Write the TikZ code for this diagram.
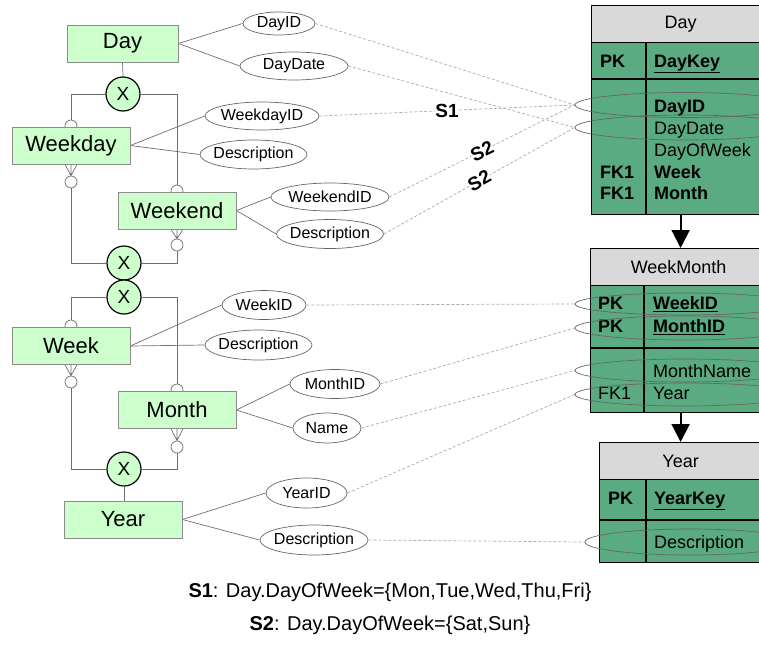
\documentclass[tikz,border=0pt]{standalone}
\usepackage{fontspec}
\setmainfont{Liberation Sans}
\usetikzlibrary{shapes.geometric,arrows.meta,backgrounds}
\definecolor{entfill}{HTML}{CCFFCC}
\definecolor{entdraw}{HTML}{8C8C8C}
\definecolor{tgreen}{HTML}{5AAB82}
\definecolor{tgray}{HTML}{D9D9D9}
\definecolor{lnk}{HTML}{6E6E6E}
\definecolor{dsh}{HTML}{AAAAAA}
\begin{document}
\begin{tikzpicture}[x=1pt,y=-1pt,
  entity/.style={draw=entdraw, fill=entfill, line width=0.8pt, minimum width=118pt, minimum height=37pt, inner sep=0pt, font=\fontsize{22}{26}\selectfont},
  attr/.style={ellipse, draw=black!60, fill=white, inner sep=0pt, line width=0.7pt},
  attrtext/.style={font=\fontsize{16}{19}\selectfont, inner sep=0pt},
  xnode/.style={circle, draw=black, fill=entfill, line width=1.2pt, minimum size=34pt, inner sep=0pt, font=\fontsize{19}{22}\selectfont},
  opt/.style={circle, draw=lnk, fill=white, minimum size=12pt, inner sep=0pt, line width=0.7pt},
  link/.style={draw=lnk, line width=0.7pt},
  dlink/.style={draw=dsh, dash pattern=on 3pt off 2pt, line width=0.7pt},
  slabel/.style={fill=white, inner sep=0pt, font=\fontsize{19}{22}\selectfont\bfseries},
  thead/.style={draw=black, fill=tgray, line width=1.2pt, inner sep=0pt, minimum height=37pt, font=\fontsize{18}{21}\selectfont},
  tbody/.style={draw=black, fill=tgreen, line width=1.2pt, inner sep=0pt},
  ttext/.style={anchor=base west, inner sep=0pt, font=\fontsize{18}{21}\selectfont},
  tell/.style={ellipse, draw=black!60, inner sep=0pt, line width=0.7pt},
  tarrow/.style={line width=2pt, -{Triangle[width=18pt,length=18pt]}}
]
\useasboundingbox (0,0) rectangle (759,645);
\clip (0,0) rectangle (759,645);

% optional circles (drawn before boxes)
\node[opt] (wdTop) at (71,126) {};
\node[opt] (wdBot) at (71,182) {};
\node[opt] (weTop) at (177,191) {};
\node[opt] (weBot) at (177,245) {};
\node[opt] (wkTop) at (71,326) {};
\node[opt] (wkBot) at (71,382) {};
\node[opt] (moTop) at (177,390) {};
\node[opt] (moBot) at (177,447) {};

% entities
\node[entity, minimum width=111pt] (day) at (122.5,43.5) {Day};
\node[entity] (wd) at (71,145.5) {Weekday};
\node[entity] (we) at (177,210.5) {Weekend};
\node[entity] (wk) at (71,346) {Week};
\node[entity] (mo) at (177,410) {Month};
\node[entity] (yr) at (123,519.5) {Year};

% exclusive circles
\node[xnode] (x1) at (123,94) {X};
\node[xnode] (x2) at (124,263) {X};
\node[xnode] (x3) at (124,297) {X};
\node[xnode] (x4) at (124,469) {X};

% attributes
\node[attr, minimum width=72pt, minimum height=23pt] (adayid) at (279,23.5) {};
\node[attrtext] at (adayid) {DayID};
\node[attr, minimum width=108pt, minimum height=28pt] (adaydate) at (294,66) {};
\node[attrtext] at (adaydate) {DayDate};
\node[attr, minimum width=114pt, minimum height=28pt] (awdid) at (262,116) {};
\node[attrtext] at (awdid) {WeekdayID};
\node[attr, minimum width=107pt, minimum height=29pt] (awddesc) at (253.5,154.5) {};
\node[attrtext] at (awddesc) {Description};
\node[attr, minimum width=118pt, minimum height=28pt] (aweid) at (330,197) {};
\node[attrtext] at (aweid) {WeekendID};
\node[attr, minimum width=107pt, minimum height=29pt] (awedesc) at (330,234) {};
\node[attrtext] at (awedesc) {Description};
\node[attr, minimum width=84pt, minimum height=29pt] (awkid) at (264,305) {};
\node[attrtext] at (awkid) {WeekID};
\node[attr, minimum width=107pt, minimum height=30pt] (awkdesc) at (258.5,345) {};
\node[attrtext] at (awkdesc) {Description};
\node[attr, minimum width=90pt, minimum height=29pt] (amoid) at (335,384) {};
\node[attrtext] at (amoid) {MonthID};
\node[attr, minimum width=68pt, minimum height=30pt] (amoname) at (327,428) {};
\node[attrtext] at (amoname) {Name};
\node[attr, minimum width=81pt, minimum height=30pt] (ayrid) at (306.5,493) {};
\node[attrtext] at (ayrid) {YearID};
\node[attr, minimum width=108pt, minimum height=30pt] (ayrdesc) at (314,540) {};
\node[attrtext] at (ayrdesc) {Description};

% ---------- tables ----------
% Day
\node[thead, minimum width=178pt, anchor=north west] (dayH) at (591,5) {Day};
\node[tbody, minimum width=178pt, minimum height=172pt, anchor=north west] (dayB) at (591,42) {};
\draw[line width=1.2pt] (646,42) -- (646,214);
\draw[line width=1.2pt] (591,79) -- (769,79);
\node[ttext] at (600,67.5) {\bfseries PK};
\node[ttext] at (654,67.5) {\bfseries\underline{DayKey}};
\node[ttext] at (654,112.5) {\bfseries DayID};
\node[ttext] at (654,134.5) {DayDate};
\node[ttext] at (654,156.5) {DayOfWeek};
\node[ttext] at (600,178.5) {\bfseries FK1};
\node[ttext] at (654,178.5) {\bfseries Week};
\node[ttext] at (600,199.5) {\bfseries FK1};
\node[ttext] at (654,199.5) {\bfseries Month};
\node[tell, minimum width=220pt, minimum height=25pt] (tdayid) at (685,105) {};
\node[tell, minimum width=220pt, minimum height=25pt] (tdaydate) at (685,127.5) {};

% WeekMonth
\node[thead, minimum width=176pt, anchor=north west] (wmH) at (590,248) {WeekMonth};
\node[tbody, minimum width=176pt, minimum height=127pt, anchor=north west] (wmB) at (590,285) {};
\draw[line width=1.2pt] (644,285) -- (644,412);
\draw[line width=1.2pt] (590,348) -- (766,348);
\node[ttext] at (598,309.5) {\bfseries PK};
\node[ttext] at (653,309.5) {\bfseries\underline{WeekID}};
\node[ttext] at (598,332.5) {\bfseries PK};
\node[ttext] at (653,332.5) {\bfseries\underline{MonthID}};
\node[ttext] at (653,377) {MonthName};
\node[ttext] at (598,399.5) {FK1};
\node[ttext] at (653,399.5) {Year};
\node[tell, minimum width=220pt, minimum height=22pt] (twkid) at (685,304) {};
\node[tell, minimum width=220pt, minimum height=24pt] (tmoid) at (685,328) {};
\node[tell, minimum width=220pt, minimum height=23pt] (tmoname) at (685,370.5) {};
\node[tell, minimum width=220pt, minimum height=23pt] (tyr) at (685,394.5) {};

% Year
\node[thead, minimum width=162pt, anchor=north west] (yrH) at (599,442) {Year};
\node[tbody, minimum width=162pt, minimum height=83pt, anchor=north west] (yrB) at (599,479) {};
\draw[line width=1.2pt] (646,479) -- (646,562);
\draw[line width=1.2pt] (599,520) -- (761,520);
\node[ttext] at (608,504.5) {\bfseries PK};
\node[ttext] at (654,504.5) {\bfseries\underline{YearKey}};
\node[ttext] at (654,548.5) {Description};
\node[tell, minimum width=210pt, minimum height=26pt] (tyrdesc) at (690,542) {};

% table arrows
\draw[tarrow] (dayB.south) -- (dayB.south |- wmH.north);
\draw[tarrow] (wmB.south -| yrH.north) -- (yrH.north);

% ---------- connectors (behind) ----------
\begin{scope}[on background layer]
\draw[link] (day.south) -- (x1.north);
\draw[link] (x1.west) -| (wdTop.north);
\draw[link] (x1.east) -| (weTop.north);
\draw[link] (wdBot.south) |- (x2.west);
\draw[link] (weBot.south) |- (x2.east);
\draw[link] (x3.west) -| (wkTop.north);
\draw[link] (x3.east) -| (moTop.north);
\draw[link] (wkBot.south) |- (x4.west);
\draw[link] (moBot.south) |- (x4.east);
\draw[link] (x4.south) -- (x4.south |- yr.north);
% crow's feet
\draw[link] ([xshift=-6pt]wd.south) -- (wdBot.north) -- ([xshift=6pt]wd.south) (wd.south) -- (wdBot.north);
\draw[link] ([xshift=-6pt]we.south) -- (weBot.north) -- ([xshift=6pt]we.south) (we.south) -- (weBot.north);
\draw[link] ([xshift=-6pt]wk.south) -- (wkBot.north) -- ([xshift=6pt]wk.south) (wk.south) -- (wkBot.north);
\draw[link] ([xshift=-6pt]mo.south) -- (moBot.north) -- ([xshift=6pt]mo.south) (mo.south) -- (moBot.north);
% attribute links
\draw[link] (day.east) -- (adayid.west);
\draw[link] (day.east) -- (adaydate.west);
\draw[link] (wd.east) -- (awdid.west);
\draw[link] (wd.east) -- (awddesc.west);
\draw[link] (we.east) -- (aweid.west);
\draw[link] (we.east) -- (awedesc.west);
\draw[link] (wk.east) -- (awkid.west);
\draw[link] (wk.east) -- (awkdesc.west);
\draw[link] (mo.east) -- (amoid.west);
\draw[link] (mo.east) -- (amoname.west);
\draw[link] (yr.east) -- (ayrid.west);
\draw[link] (yr.east) -- (ayrdesc.west);
% dashed mappings
\draw[dlink] (adayid.east) -- (tdayid.west);
\draw[dlink] (adaydate.east) -- (tdaydate.west);
\draw[dlink] (awkid.east) -- (twkid.west);
\draw[dlink] (amoid.east) -- (tmoid.west);
\draw[dlink] (amoname.east) -- (tmoname.west);
\draw[dlink] (ayrid.east) -- (tyr.west);
\draw[dlink] (ayrdesc.east) -- (tyrdesc.west);
\end{scope}
\draw[dlink] (awdid.east) -- node[slabel, midway] (s1) {S1} (tdayid.west);
\draw[dlink] (aweid.east) -- node[slabel, midway, sloped] (s2a) {S2} (tdayid.west);
\draw[dlink] (awedesc.east) -- node[slabel, midway, sloped] (s2b) {S2} (tdaydate.west);

% legend
\node[font=\fontsize{20}{24}\selectfont] (leg1) at (390,592) {\textbf{S1}: Day.DayOfWeek=\{Mon,Tue,Wed,Thu,Fri\}};
\node[font=\fontsize{20}{24}\selectfont] (leg2) at (390,625) {\textbf{S2}: Day.DayOfWeek=\{Sat,Sun\}};
\end{tikzpicture}
\end{document}
